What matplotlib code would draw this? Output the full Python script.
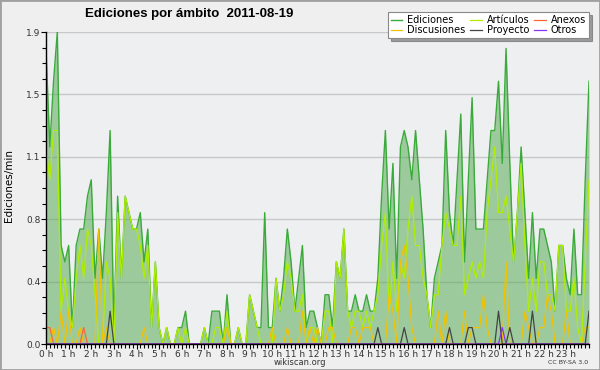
import matplotlib
matplotlib.use("Agg")
import matplotlib.pyplot as plt
from matplotlib.patches import Rectangle
import numpy as np

# edits per 10-minute bucket, 2011-08-19, 145 buckets (0 h .. 24 h)
ediciones = [
    18, 12, 16, 19, 6, 5, 6, 1, 6, 7, 7, 9,
    10, 4, 7, 4, 8, 13, 1, 9, 4, 9, 8, 7,
    7, 8, 5, 7, 1, 5, 1, 0, 1, 0, 0, 1,
    1, 2, 0, 0, 0, 0, 1, 0, 2, 2, 2, 0,
    3, 0, 0, 1, 0, 0, 3, 2, 1, 1, 8, 1,
    1, 4, 2, 4, 7, 5, 2, 4, 6, 1, 2, 2,
    1, 0, 3, 3, 1, 5, 4, 7, 2, 2, 3, 2,
    2, 3, 2, 2, 4, 9, 13, 7, 11, 4, 12, 13,
    12, 10, 13, 10, 7, 3, 1, 4, 5, 6, 13, 8,
    6, 10, 14, 5, 10, 15, 7, 7, 7, 10, 13, 13,
    16, 11, 18, 11, 5, 8, 12, 8, 4, 8, 4, 7,
    7, 6, 5, 2, 6, 6, 4, 3, 7, 3, 3, 10,
    16]
articulos = [
    12, 10, 13, 13, 2, 4, 2, 1, 4, 6, 4, 7,
    6, 3, 0, 0, 5, 4, 0, 8, 4, 9, 8, 7,
    7, 6, 4, 6, 1, 5, 1, 0, 1, 0, 0, 1,
    0, 1, 0, 0, 0, 0, 1, 0, 0, 1, 1, 0,
    2, 0, 0, 1, 0, 0, 3, 2, 1, 0, 0, 0,
    0, 4, 2, 3, 5, 4, 2, 2, 3, 0, 1, 1,
    0, 0, 2, 2, 0, 5, 4, 7, 2, 1, 2, 2,
    1, 2, 1, 2, 3, 6, 8, 2, 5, 2, 5, 4,
    7, 9, 6, 6, 4, 3, 1, 3, 3, 6, 8, 7,
    6, 6, 9, 3, 4, 5, 4, 5, 4, 8, 10, 12,
    8, 8, 9, 7, 5, 8, 11, 6, 2, 4, 2, 5,
    5, 3, 3, 2, 6, 6, 2, 2, 4, 1, 0, 5,
    10]
discusiones = [
    0, 0, 1, 0, 2, 0, 2, 0, 0, 1, 0, 0,
    0, 0, 7, 0, 1, 0, 0, 0, 0, 0, 0, 0,
    0, 0, 1, 0, 0, 0, 0, 0, 0, 0, 0, 0,
    0, 0, 0, 0, 0, 0, 0, 0, 0, 0, 0, 0,
    1, 0, 0, 0, 0, 0, 0, 0, 0, 0, 0, 0,
    1, 0, 0, 0, 1, 0, 0, 0, 2, 0, 1, 0,
    1, 0, 0, 1, 1, 0, 0, 0, 0, 1, 1, 0,
    1, 1, 1, 0, 0, 0, 0, 3, 2, 0, 5, 6,
    4, 1, 0, 0, 0, 0, 0, 0, 2, 0, 2, 0,
    0, 0, 0, 2, 0, 1, 1, 1, 3, 1, 0, 0,
    0, 0, 5, 0, 0, 0, 0, 2, 1, 0, 0, 1,
    1, 3, 2, 0, 0, 0, 2, 0, 0, 0, 0, 1,
    1]
anexos = [
    1, 1, 0, 0, 0, 0, 0, 0, 0, 0, 1, 0,
    0, 0, 0, 0, 0, 0, 0, 0, 0, 0, 0, 0,
    0, 0, 0, 0, 0, 0, 0, 0, 0, 0, 0, 0,
    0, 0, 0, 0, 0, 0, 0, 0, 0, 0, 0, 0,
    0, 0, 0, 0, 0, 0, 0, 0, 0, 0, 0, 0,
    0, 0, 0, 0, 0, 0, 0, 0, 0, 0, 0, 0,
    0, 0, 0, 0, 0, 0, 0, 0, 0, 0, 0, 0,
    0, 0, 0, 0, 0, 0, 0, 0, 0, 0, 0, 0,
    0, 0, 0, 0, 0, 0, 0, 0, 0, 0, 0, 0,
    0, 0, 0, 0, 0, 0, 0, 0, 0, 0, 0, 0,
    0, 0, 0, 0, 0, 0, 0, 0, 0, 0, 0, 0,
    0, 0, 0, 0, 0, 0, 0, 0, 0, 0, 0, 0,
    0]
proyecto = [
    0, 0, 0, 0, 0, 0, 0, 0, 0, 0, 0, 0,
    0, 0, 0, 0, 0, 2, 0, 0, 0, 0, 0, 0,
    0, 0, 0, 0, 0, 0, 0, 0, 0, 0, 0, 0,
    0, 0, 0, 0, 0, 0, 0, 0, 0, 0, 0, 0,
    0, 0, 0, 0, 0, 0, 0, 0, 0, 0, 0, 0,
    0, 0, 0, 0, 0, 0, 0, 0, 0, 0, 0, 0,
    0, 0, 0, 0, 0, 0, 0, 0, 0, 0, 0, 0,
    0, 0, 0, 0, 1, 0, 0, 0, 0, 0, 0, 1,
    0, 0, 0, 0, 0, 0, 0, 0, 0, 0, 0, 1,
    0, 0, 0, 0, 1, 1, 0, 0, 0, 0, 0, 0,
    2, 0, 0, 1, 0, 0, 0, 0, 0, 2, 0, 0,
    0, 0, 0, 0, 0, 0, 0, 0, 0, 0, 0, 0,
    2]
otros = [
    0, 0, 0, 0, 0, 0, 0, 0, 0, 0, 0, 0,
    0, 0, 0, 0, 0, 0, 0, 0, 0, 0, 0, 0,
    0, 0, 0, 0, 0, 0, 0, 0, 0, 0, 0, 0,
    0, 0, 0, 0, 0, 0, 0, 0, 0, 0, 0, 0,
    0, 0, 0, 0, 0, 0, 0, 0, 0, 0, 0, 0,
    0, 0, 0, 0, 0, 0, 0, 0, 0, 0, 0, 0,
    0, 0, 0, 0, 0, 0, 0, 0, 0, 0, 0, 0,
    0, 0, 0, 0, 0, 0, 0, 0, 0, 0, 0, 0,
    0, 0, 0, 0, 0, 0, 0, 0, 0, 0, 0, 0,
    0, 0, 0, 0, 0, 0, 0, 0, 0, 0, 0, 0,
    0, 1, 0, 0, 0, 0, 0, 0, 0, 0, 0, 0,
    0, 0, 0, 0, 0, 0, 0, 0, 0, 0, 0, 0,
    0]

hour_labels = ["%d h" % h for h in range(24)]
y_max = 1.9

x = np.arange(len(ediciones)) / 6.0   # hours
per_min = lambda s: np.array(s) / 10.0

fig = plt.figure(figsize=(6, 3.7), dpi=100, facecolor="#efefef")
ax = fig.add_axes([46 / 600, 1 - 344 / 370, 543 / 600, 312 / 370])
ax.set_facecolor("#eeeff1")

# grid
yt = np.linspace(0, y_max, 6)
ax.set_yticks(yt)
ax.set_yticklabels(["%.1f" % v for v in yt])
ax.set_yticks(np.linspace(0, y_max, 21), minor=True)
ax.yaxis.grid(True, which="major", color="#c8c8c8", lw=1)
ax.set_axisbelow(True)

ed = per_min(ediciones)
ax.fill_between(x, 0, ed, color="#4ea74b", alpha=0.5, lw=0)
l_ed, = ax.plot(x, ed, color="#3aaa3a", lw=1.0)
l_ar, = ax.plot(x, per_min(articulos), color="#b0ee00", lw=0.9)
l_di, = ax.plot(x, per_min(discusiones), color="#f2c200", lw=0.9)
l_an, = ax.plot(x, per_min(anexos), color="#ff6633", lw=0.9)
l_pr, = ax.plot(x, per_min(proyecto), color="#444444", lw=0.9)
l_ot, = ax.plot(x, per_min(otros), color="#8833ee", lw=0.9)

ax.set_xlim(0, 24)
ax.set_ylim(0, y_max)
ax.set_xticks(range(24))
ax.set_xticklabels(hour_labels)
ax.set_xticks(np.arange(0, 24.01, 1 / 6.0), minor=True)

for s in ["top", "right"]:
    ax.spines[s].set_visible(False)
for s in ["left", "bottom"]:
    ax.spines[s].set_color("black")
    ax.spines[s].set_linewidth(1)
ax.tick_params(which="major", direction="out", length=3.5, width=0.8,
               labelsize=6.5, colors="black", labelcolor="#333333", pad=0.5)
ax.tick_params(which="minor", direction="out", length=3, width=0.8)

fig.text(85 / 600, 1 - 14 / 370, "Ediciones por ámbito  2011-08-19",
         fontsize=9.5, fontweight="bold", va="center", ha="left",
         family=["Liberation Sans", "DejaVu Sans"])
fig.text(9 / 600, 0.5, "Ediciones/min", rotation=90, fontsize=7.5,
         va="center", ha="center")
fig.text(300 / 600, 1 - 362.5 / 370, "wikiscan.org", fontsize=6,
         ha="center", va="center", color="#333333")
fig.text(588 / 600, 1 - 362.5 / 370, "CC BY-SA 3.0", fontsize=4.5,
         ha="right", va="center", color="#333333")

leg = fig.legend([l_ed, l_di, l_ar, l_pr, l_an, l_ot],
                 ["Ediciones", "Discusiones", "Artículos", "Proyecto",
                  "Anexos", "Otros"],
                 ncol=3, loc="upper right",
                 bbox_to_anchor=(589 / 600, 1 - 12 / 370),
                 fontsize=7, frameon=True, fancybox=False, shadow=True,
                 handlelength=1.2, handletextpad=0.5, columnspacing=0.5,
                 labelspacing=0.05, borderpad=0.3, borderaxespad=0)
leg.get_frame().set_edgecolor("#888888")
leg.get_frame().set_linewidth(0.8)

fig.patches.append(Rectangle((0, 0), 1, 1, transform=fig.transFigure,
                             fill=False, edgecolor="#a0a0a0", lw=2))

fig.savefig("out.png", dpi=100, facecolor=fig.get_facecolor())
